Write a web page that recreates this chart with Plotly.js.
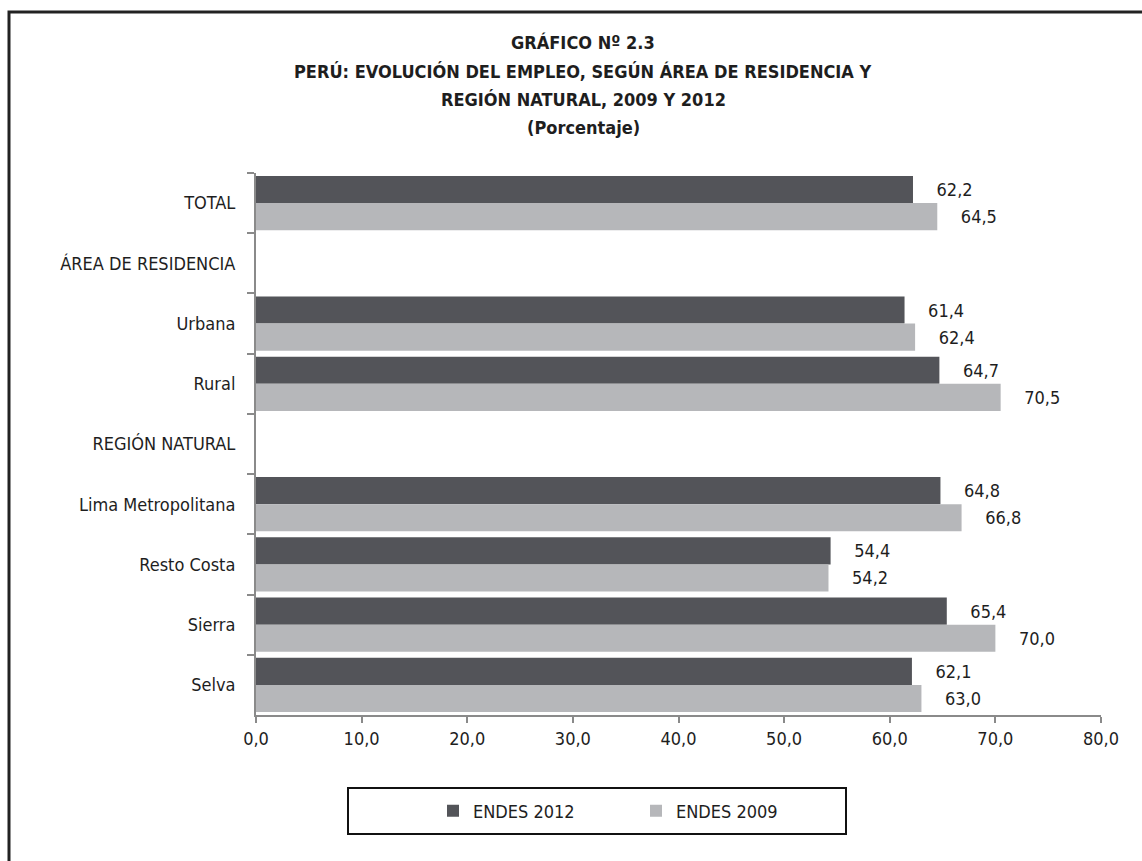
<!DOCTYPE html>
<html>
<head>
<meta charset="utf-8">
<script src="https://cdn.plot.ly/plotly-3.0.1.min.js"></script>
<style>
  html, body { margin: 0; padding: 0; background: #fff; }
  #chart { width: 1142px; height: 861px; }
</style>
</head>
<body>
<div id="chart"></div>
<script>
const categories = ["TOTAL", "ÁREA DE RESIDENCIA", "Urbana", "Rural", "REGIÓN NATURAL",
  "Lima Metropolitana", "Resto Costa", "Sierra", "Selva"];
const endes2012 = [62.2, null, 61.4, 64.7, null, 64.8, 54.4, 65.4, 62.1];
const endes2009 = [64.5, null, 62.4, 70.5, null, 66.8, 54.2, 70.0, 63.0];
const seriesNames = ["ENDES 2012", "ENDES 2009"];
const xTicks = [0, 10, 20, 30, 40, 50, 60, 70, 80];
const titleLines = ["GRÁFICO Nº 2.3",
  "PERÚ: EVOLUCIÓN DEL EMPLEO, SEGÚN ÁREA DE RESIDENCIA Y",
  "REGIÓN NATURAL, 2009 Y 2012",
  "(Porcentaje)"];

const FONT = "'Liberation Sans Narrow', 'Arial Narrow', 'DejaVu Sans Condensed', sans-serif";
const TXT = "#1e1e1e";
const pad = "\u00A0\u00A0\u00A0\u00A0";

const traces = [
  { type: "bar", orientation: "h", name: seriesNames[0], y: categories, x: endes2012,
    marker: { color: "#535459" },
    texttemplate: pad + "%{x:.1f}", textposition: "outside", cliponaxis: false,
    textfont: { family: FONT, size: 18, color: TXT }, hoverinfo: "x+y" },
  { type: "bar", orientation: "h", name: seriesNames[1], y: categories, x: endes2009,
    marker: { color: "#b6b7ba" },
    texttemplate: pad + "%{x:.1f}", textposition: "outside", cliponaxis: false,
    textfont: { family: FONT, size: 18, color: TXT }, hoverinfo: "x+y" }
];

// plot area geometry in px: x 256..1101, y 173..715
const L = 256, R = 1101, T = 173, B = 715;
const px2x = p => (p - L) / (R - L);
const px2y = p => (B - p) / (B - T);

const titleY = [43, 71, 99, 127];
const annotations = titleLines.map((t, i) => ({
  text: t, xref: "paper", yref: "paper", x: px2x(583), y: px2y(titleY[i]),
  xanchor: "center", yanchor: "middle", showarrow: false,
  font: { family: FONT, size: 18, color: TXT, weight: "bold" }
}));

const layout = {
  width: 1142, height: 861,
  margin: { l: L, r: 1142 - R, t: T, b: 861 - B, pad: 0 },
  paper_bgcolor: "#ffffff", plot_bgcolor: "#ffffff",
  separators: ",.",
  barmode: "group", bargap: 0.1, bargroupgap: 0,
  font: { family: FONT, size: 18, color: TXT },
  showlegend: true,
  legend: {
    orientation: "h", x: px2x(433), xanchor: "left", y: px2y(811), yanchor: "middle",
    bgcolor: "rgba(0,0,0,0)", borderwidth: 0,
    entrywidth: 158, entrywidthmode: "pixels",
    font: { family: FONT, size: 18, color: TXT }, traceorder: "normal"
  },
  xaxis: {
    range: [0, 80], tickvals: xTicks, tickformat: ".1f",
    showgrid: false, zeroline: false,
    showline: true, linecolor: "#8a8a8a", linewidth: 2,
    ticks: "outside", ticklen: 6, tickwidth: 2, tickcolor: "#8a8a8a",
    tickfont: { family: FONT, size: 18, color: TXT }, fixedrange: true
  },
  yaxis: {
    type: "category", categoryorder: "array", categoryarray: categories,
    range: [categories.length - 0.5, -0.5],
    showgrid: false, zeroline: false,
    showline: true, linecolor: "#8a8a8a", linewidth: 2,
    ticks: "outside", tickson: "boundaries", ticklen: 7, tickwidth: 2, tickcolor: "#8a8a8a",
    ticklabelstandoff: 15,
    tickfont: { family: FONT, size: 18, color: TXT }, fixedrange: true
  },
  annotations: annotations,
  shapes: [
    { type: "rect", xref: "paper", yref: "paper",
      x0: px2x(9), x1: px2x(1200), y0: px2y(12), y1: px2y(950),
      line: { color: "#222222", width: 3 }, fillcolor: "rgba(0,0,0,0)", layer: "below" },
    { type: "rect", xref: "paper", yref: "paper",
      x0: px2x(348), x1: px2x(846), y0: px2y(788), y1: px2y(834),
      line: { color: "#111111", width: 2 }, fillcolor: "rgba(0,0,0,0)" }
  ]
};

Plotly.newPlot("chart", traces, layout, { displayModeBar: false, staticPlot: true });
</script>
</body>
</html>
